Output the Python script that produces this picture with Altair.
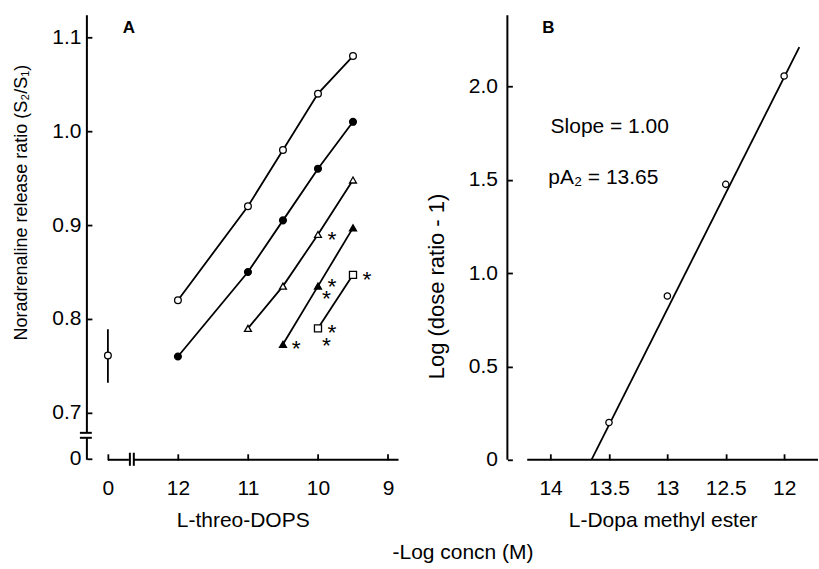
import altair as alt
import pandas as pd

FONT = "Liberation Sans"
BLACK = "#000000"

# ---------------- Panel A data (x = -log concn, 13 stands for the control "0") ----------------
oc_x = [12, 11, 10.5, 10, 9.5]
oc_y = [0.82, 0.92, 0.98, 1.04, 1.08]
fc_x = [12, 11, 10.5, 10, 9.5]
fc_y = [0.76, 0.85, 0.905, 0.96, 1.01]
ot_x = [11, 10.5, 10, 9.5]
ot_y = [0.79, 0.835, 0.89, 0.948]
ft_x = [10.5, 10, 9.5]
ft_y = [0.773, 0.835, 0.897]
os_x = [10, 9.5]
os_y = [0.79, 0.847]

ctrl_x = [13]
ctrl_y = [0.761]
ctrl_lo = [0.732]
ctrl_hi = [0.789]

star_x = [9.8, 9.8, 9.88, 9.3, 9.8, 9.88, 10.31]
star_y = [0.89, 0.84, 0.828, 0.848, 0.791, 0.778, 0.774]

a_xticks = [13, 12, 11, 10, 9]
a_yticks = [0.651, 0.7, 0.8, 0.9, 1.0, 1.1]
a_xdomain = [13.3, 8.85]
a_ydomain = [0.65, 1.1234]

# axis line segments for panel A (with breaks)
a_seg_x = [13.3, 13.3, 13.4, 13.4, 13.0, 12.63, 12.686, 12.63]
a_seg_x2 = [13.3, 13.3, 13.23, 13.23, 12.7, 8.85, 12.686, 12.63]
a_seg_y = [0.6787, 0.65, 0.6787, 0.6734, 0.65, 0.65, 0.6575, 0.6575]
a_seg_y2 = [1.1234, 0.6734, 0.6787, 0.6734, 0.65, 0.65, 0.6436, 0.6436]

# ---------------- Panel B data ----------------
b_x = [13.5, 13.0, 12.5, 12.0]
b_y = [0.2, 0.877, 1.475, 2.055]
fit_x = [13.65, 11.87]
fit_y = [0.0, 2.21]
b_xticks = [14, 13.5, 13, 12.5, 12]
b_yticks = [0, 0.5, 1.0, 1.5, 2.0]
b_xdomain = [14.37, 11.71]
b_ydomain = [0, 2.38]
b_seg_x = [14.37, 14.2]
b_seg_x2 = [14.37, 11.71]
b_seg_y = [0, 0]
b_seg_y2 = [2.38, 0]

W_A, W_B, H = 312, 311, 445

# ---------------- build tables ----------------
rows = []
for name, xs, ys in [("oc", oc_x, oc_y), ("fc", fc_x, fc_y), ("ot", ot_x, ot_y),
                     ("ft", ft_x, ft_y), ("os", os_x, os_y)]:
    for x, y in zip(xs, ys):
        rows.append({"series": name, "x": x, "y": y})
series_df = pd.DataFrame(rows)
ctrl_df = pd.DataFrame({"x": ctrl_x, "y": ctrl_y, "lo": ctrl_lo, "hi": ctrl_hi})
star_df = pd.DataFrame({"x": star_x, "y": star_y, "t": ["*"] * len(star_x)})
a_seg = pd.DataFrame({"x": a_seg_x, "x2": a_seg_x2, "y": a_seg_y, "y2": a_seg_y2})
b_pts = pd.DataFrame({"x": b_x, "y": b_y})
b_fit = pd.DataFrame({"x": fit_x, "y": fit_y})
b_seg = pd.DataFrame({"x": b_seg_x, "x2": b_seg_x2, "y": b_seg_y, "y2": b_seg_y2})

ax_style = dict(domain=False, grid=False, ticks=True, tickColor=BLACK, tickWidth=1.8,
                labelFont=FONT, labelFontSize=21, labelColor=BLACK, titleFont=FONT,
                titleFontWeight="normal", titleColor=BLACK,
                labelFlush=False, labelOverlap=False)

# ---------------- Panel A ----------------
xsA = alt.Scale(domain=a_xdomain, nice=False, zero=False)
ysA = alt.Scale(domain=a_ydomain, nice=False, zero=False)

xA_axis = alt.Axis(values=a_xticks, tickSize=6, offset=-6, labelPadding=18,
                   labelExpr="datum.value == 13 ? '0' : format(datum.value, 'd')",
                   title="L-threo-DOPS", titlePadding=11, titleFontSize=21, **ax_style)
yA_axis = alt.Axis(values=a_yticks, tickSize=5, offset=-5, labelPadding=6,
                   labelExpr="datum.value < 0.69 ? '0' : format(datum.value, '.1f')",
                   title="Noradrenaline release ratio (S\u2082/S\u2081)", titleAngle=270,
                   titleX=-70, titleY=187, titleAlign="center", titleBaseline="middle",
                   titleFontSize=18, **ax_style)


def XA(f):
    return alt.X(f, scale=xsA, axis=xA_axis)


def YA(f):
    return alt.Y(f, scale=ysA, axis=yA_axis)


a_axes = alt.Chart(a_seg).mark_rule(color=BLACK, strokeWidth=2).encode(
    x=XA("x:Q"), x2="x2:Q", y=YA("y:Q"), y2="y2:Q")

a_lines = alt.Chart(series_df).mark_line(color=BLACK, strokeWidth=1.8).encode(
    x=XA("x:Q"), y=YA("y:Q"), detail="series:N")

shape_scale = alt.Scale(domain=["oc", "fc", "ot", "ft", "os"],
                        range=["circle", "circle", "triangle-up", "triangle-up", "square"])
fill_scale = alt.Scale(domain=["oc", "fc", "ot", "ft", "os"],
                       range=["white", BLACK, "white", BLACK, "white"])
size_scale = alt.Scale(domain=["oc", "fc", "ot", "ft", "os"], range=[45, 50, 45, 45, 45])

a_points = alt.Chart(series_df).mark_point(filled=True, stroke=BLACK, strokeWidth=1.3, opacity=1).encode(
    x=XA("x:Q"), y=YA("y:Q"),
    shape=alt.Shape("series:N", scale=shape_scale, legend=None),
    fill=alt.Fill("series:N", scale=fill_scale, legend=None),
    size=alt.Size("series:N", scale=size_scale, legend=None))

a_err = alt.Chart(ctrl_df).mark_rule(color=BLACK, strokeWidth=1.8).encode(
    x=XA("x:Q"), y=YA("lo:Q"), y2="hi:Q")
a_ctrl = alt.Chart(ctrl_df).mark_point(filled=True, fill="white", stroke=BLACK, strokeWidth=1.3,
                                       size=45, opacity=1, shape="circle").encode(
    x=XA("x:Q"), y=YA("y:Q"))

a_stars = alt.Chart(star_df).mark_text(font=FONT, fontSize=23, color=BLACK, baseline="middle",
                                       align="center", dy=6).encode(
    x=XA("x:Q"), y=YA("y:Q"), text="t:N")

a_label = alt.Chart(pd.DataFrame({"x": [12.7], "y": [1.1096], "t": ["A"]})).mark_text(
    font=FONT, fontSize=17, fontWeight="bold", color=BLACK, baseline="middle", align="center").encode(
    x=XA("x:Q"), y=YA("y:Q"), text="t:N")

panelA = alt.layer(a_axes, a_lines, a_err, a_ctrl, a_points, a_stars, a_label).properties(
    width=W_A, height=H)

# ---------------- Panel B ----------------
xsB = alt.Scale(domain=b_xdomain, nice=False, zero=False)
ysB = alt.Scale(domain=b_ydomain, nice=False, zero=False)

xB_axis = alt.Axis(values=b_xticks, tickSize=6, offset=-6, labelPadding=18,
                   labelExpr="format(datum.value, '~g')",
                   title="L-Dopa methyl ester", titlePadding=11, titleFontSize=21, **ax_style)
yB_axis = alt.Axis(values=b_yticks, tickSize=5, offset=-5, labelPadding=10,
                   labelExpr="datum.value == 0 ? '0' : format(datum.value, '.1f')",
                   title="Log (dose ratio - 1)", titleAngle=270,
                   titleX=-76, titleY=271, titleAlign="center", titleBaseline="middle",
                   titleFontSize=22, **ax_style)


def XB(f):
    return alt.X(f, scale=xsB, axis=xB_axis)


def YB(f):
    return alt.Y(f, scale=ysB, axis=yB_axis)


b_axes = alt.Chart(b_seg).mark_rule(color=BLACK, strokeWidth=2).encode(
    x=XB("x:Q"), x2="x2:Q", y=YB("y:Q"), y2="y2:Q")
b_line = alt.Chart(b_fit).mark_line(color=BLACK, strokeWidth=1.8).encode(
    x=XB("x:Q"), y=YB("y:Q"))
b_points = alt.Chart(b_pts).mark_point(filled=True, fill="white", stroke=BLACK, strokeWidth=1.3,
                                       size=40, opacity=1, shape="circle").encode(
    x=XB("x:Q"), y=YB("y:Q"))

b_text_df = pd.DataFrame({"x": [14.02, 14.0, 14.02], "y": [2.31, 1.78, 1.51],
                          "t": ["B", "Slope = 1.00", "pA\u2082 = 13.65"],
                          "kind": ["panel", "note", "note"]})
b_label = alt.Chart(b_text_df[b_text_df.kind == "panel"]).mark_text(
    font=FONT, fontSize=17, fontWeight="bold", color=BLACK, baseline="middle", align="center").encode(
    x=XB("x:Q"), y=YB("y:Q"), text="t:N")
b_notes = alt.Chart(b_text_df[b_text_df.kind == "note"]).mark_text(
    font=FONT, fontSize=21, color=BLACK, baseline="middle", align="left").encode(
    x=XB("x:Q"), y=YB("y:Q"), text="t:N")

panelB = alt.layer(b_axes, b_line, b_points, b_label, b_notes).properties(width=W_B, height=H)

chart = alt.hconcat(panelA, panelB, spacing=26).properties(
    padding={"left": 13, "top": 14, "right": 0, "bottom": 0},
    background="white",
    title=alt.TitleParams("-Log concn (M)", orient="bottom", anchor="start", frame="bounds",
                          dx=380, offset=11, font=FONT, fontSize=21, fontWeight="normal",
                          color=BLACK),
).configure_view(stroke=None)

chart.save("out.html", embed_options={"renderer": "svg", "actions": False})
